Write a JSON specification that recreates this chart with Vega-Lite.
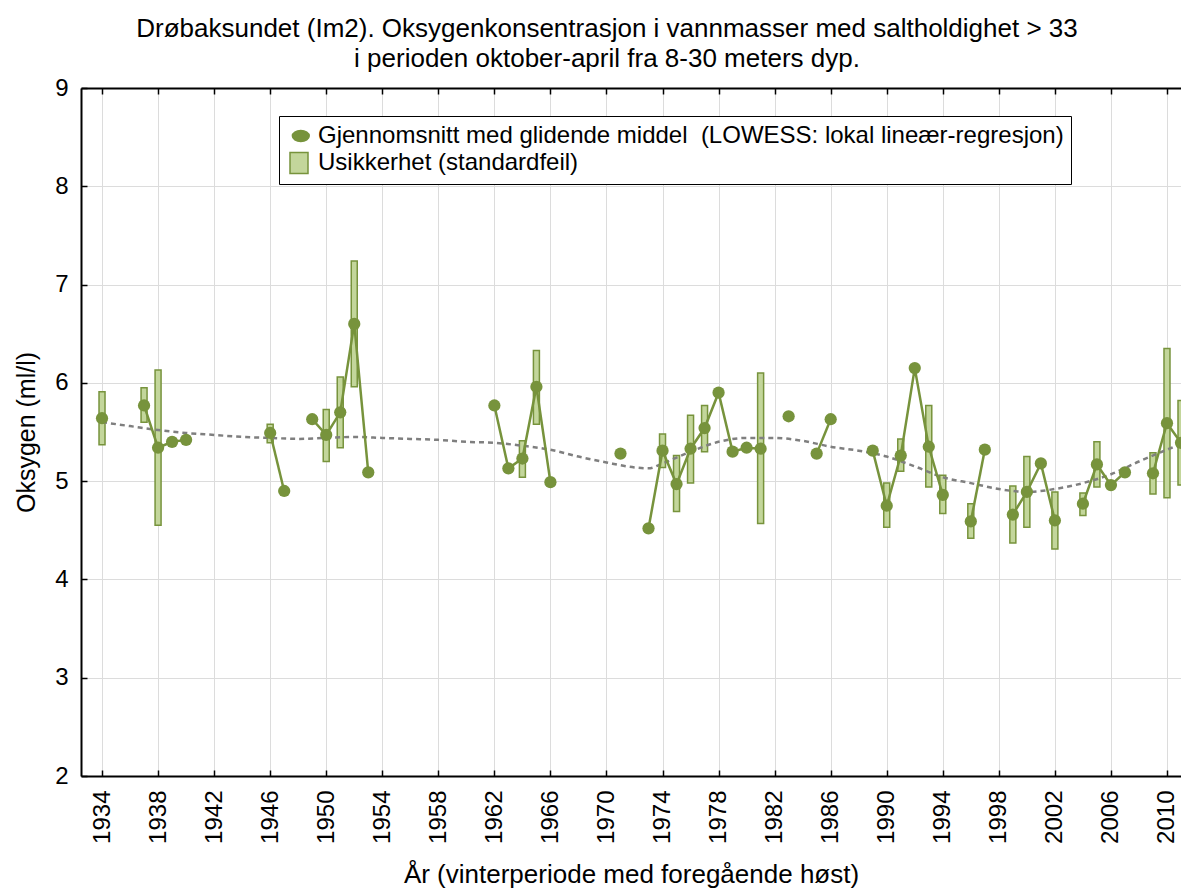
{
  "$schema": "https://vega.github.io/schema/vega-lite/v6.json",
  "width": 1100,
  "height": 688,
  "autosize": {"type": "none"},
  "padding": {"left": 81, "top": 88, "right": 0, "bottom": 115},
  "background": "white",
  "title": {
    "text": ["Drøbaksundet (Im2). Oksygenkonsentrasjon i vannmasser med saltholdighet > 33", "i perioden oktober-april fra 8-30 meters dyp."],
    "font": "Liberation Sans",
    "fontSize": 26,
    "fontWeight": "normal",
    "color": "black",
    "anchor": "middle",
    "dx": -24,
    "lineHeight": 30,
    "offset": 4
  },
  "config": {
    "view": {"stroke": null},
    "axis": {
      "labelFont": "Liberation Sans",
      "titleFont": "Liberation Sans",
      "labelColor": "black",
      "titleColor": "black",
      "titleFontWeight": "normal",
      "domainColor": "black",
      "domainWidth": 2,
      "tickColor": "black",
      "tickWidth": 1.5,
      "gridColor": "#dcdcdc",
      "gridWidth": 1
    },
    "legend": {
      "labelFont": "Liberation Sans",
      "labelFontSize": 24,
      "labelColor": "black",
      "labelLimit": 1000
    }
  },
  "datasets": {
    "main": [
      {"year": 1934, "value": 5.64, "lo": 5.37, "hi": 5.91, "seg": 1},
      {"year": 1937, "value": 5.77, "lo": 5.60, "hi": 5.95, "seg": 2},
      {"year": 1938, "value": 5.34, "lo": 4.55, "hi": 6.13, "seg": 2},
      {"year": 1939, "value": 5.40, "lo": null, "hi": null, "seg": 2},
      {"year": 1940, "value": 5.42, "lo": null, "hi": null, "seg": 2},
      {"year": 1946, "value": 5.49, "lo": 5.39, "hi": 5.58, "seg": 3},
      {"year": 1947, "value": 4.90, "lo": null, "hi": null, "seg": 3},
      {"year": 1949, "value": 5.63, "lo": null, "hi": null, "seg": 4},
      {"year": 1950, "value": 5.47, "lo": 5.20, "hi": 5.73, "seg": 4},
      {"year": 1951, "value": 5.70, "lo": 5.34, "hi": 6.06, "seg": 4},
      {"year": 1952, "value": 6.60, "lo": 5.96, "hi": 7.24, "seg": 4},
      {"year": 1953, "value": 5.09, "lo": null, "hi": null, "seg": 4},
      {"year": 1962, "value": 5.77, "lo": null, "hi": null, "seg": 5},
      {"year": 1963, "value": 5.13, "lo": null, "hi": null, "seg": 5},
      {"year": 1964, "value": 5.23, "lo": 5.04, "hi": 5.41, "seg": 5},
      {"year": 1965, "value": 5.96, "lo": 5.58, "hi": 6.33, "seg": 5},
      {"year": 1966, "value": 4.99, "lo": null, "hi": null, "seg": 5},
      {"year": 1971, "value": 5.28, "lo": null, "hi": null, "seg": 6},
      {"year": 1973, "value": 4.52, "lo": null, "hi": null, "seg": 7},
      {"year": 1974, "value": 5.31, "lo": 5.14, "hi": 5.48, "seg": 7},
      {"year": 1975, "value": 4.97, "lo": 4.69, "hi": 5.26, "seg": 7},
      {"year": 1976, "value": 5.33, "lo": 4.98, "hi": 5.67, "seg": 7},
      {"year": 1977, "value": 5.54, "lo": 5.30, "hi": 5.77, "seg": 7},
      {"year": 1978, "value": 5.90, "lo": null, "hi": null, "seg": 7},
      {"year": 1979, "value": 5.30, "lo": null, "hi": null, "seg": 7},
      {"year": 1980, "value": 5.34, "lo": null, "hi": null, "seg": 7},
      {"year": 1981, "value": 5.33, "lo": 4.57, "hi": 6.10, "seg": 7},
      {"year": 1983, "value": 5.66, "lo": null, "hi": null, "seg": 8},
      {"year": 1985, "value": 5.28, "lo": null, "hi": null, "seg": 9},
      {"year": 1986, "value": 5.63, "lo": null, "hi": null, "seg": 9},
      {"year": 1989, "value": 5.31, "lo": null, "hi": null, "seg": 10},
      {"year": 1990, "value": 4.75, "lo": 4.53, "hi": 4.98, "seg": 10},
      {"year": 1991, "value": 5.26, "lo": 5.10, "hi": 5.43, "seg": 10},
      {"year": 1992, "value": 6.15, "lo": null, "hi": null, "seg": 10},
      {"year": 1993, "value": 5.35, "lo": 4.94, "hi": 5.77, "seg": 10},
      {"year": 1994, "value": 4.86, "lo": 4.67, "hi": 5.06, "seg": 10},
      {"year": 1996, "value": 4.59, "lo": 4.42, "hi": 4.77, "seg": 11},
      {"year": 1997, "value": 5.32, "lo": null, "hi": null, "seg": 11},
      {"year": 1999, "value": 4.66, "lo": 4.37, "hi": 4.95, "seg": 12},
      {"year": 2000, "value": 4.89, "lo": 4.53, "hi": 5.25, "seg": 12},
      {"year": 2001, "value": 5.18, "lo": null, "hi": null, "seg": 12},
      {"year": 2002, "value": 4.60, "lo": 4.31, "hi": 4.89, "seg": 12},
      {"year": 2004, "value": 4.77, "lo": 4.65, "hi": 4.88, "seg": 13},
      {"year": 2005, "value": 5.17, "lo": 4.94, "hi": 5.40, "seg": 13},
      {"year": 2006, "value": 4.96, "lo": null, "hi": null, "seg": 13},
      {"year": 2007, "value": 5.09, "lo": null, "hi": null, "seg": 13},
      {"year": 2009, "value": 5.08, "lo": 4.87, "hi": 5.29, "seg": 14},
      {"year": 2010, "value": 5.59, "lo": 4.83, "hi": 6.35, "seg": 14},
      {"year": 2011, "value": 5.39, "lo": 4.96, "hi": 5.82, "seg": 14}
    ],
    "smooth": [
      {"year": 1934, "value": 5.60},
      {"year": 1936, "value": 5.56},
      {"year": 1938, "value": 5.52},
      {"year": 1940, "value": 5.49},
      {"year": 1942, "value": 5.47},
      {"year": 1944, "value": 5.45},
      {"year": 1946, "value": 5.44},
      {"year": 1948, "value": 5.43},
      {"year": 1950, "value": 5.44},
      {"year": 1952, "value": 5.45},
      {"year": 1954, "value": 5.44},
      {"year": 1956, "value": 5.43},
      {"year": 1958, "value": 5.42},
      {"year": 1960, "value": 5.40},
      {"year": 1962, "value": 5.39},
      {"year": 1964, "value": 5.36},
      {"year": 1966, "value": 5.32},
      {"year": 1968, "value": 5.25},
      {"year": 1970, "value": 5.19},
      {"year": 1972, "value": 5.14},
      {"year": 1973, "value": 5.13},
      {"year": 1974, "value": 5.18},
      {"year": 1976, "value": 5.30},
      {"year": 1978, "value": 5.40},
      {"year": 1980, "value": 5.44},
      {"year": 1982, "value": 5.44},
      {"year": 1984, "value": 5.41},
      {"year": 1986, "value": 5.35},
      {"year": 1988, "value": 5.31},
      {"year": 1990, "value": 5.25},
      {"year": 1992, "value": 5.15},
      {"year": 1994, "value": 5.04},
      {"year": 1996, "value": 4.98},
      {"year": 1998, "value": 4.92},
      {"year": 2000, "value": 4.89},
      {"year": 2002, "value": 4.92},
      {"year": 2004, "value": 4.98},
      {"year": 2006, "value": 5.07},
      {"year": 2008, "value": 5.20},
      {"year": 2010, "value": 5.32},
      {"year": 2011, "value": 5.38}
    ]
  },
  "resolve": {"axis": {"x": "independent"}},
  "layer": [
    {
      "data": {"name": "main"},
      "mark": {"type": "bar", "size": 6, "stroke": "#77933c", "strokeWidth": 1.5, "clip": true},
      "encoding": {
        "x": {
          "field": "year", "type": "quantitative",
          "scale": {"domain": [1932.5, 2011], "nice": false, "zero": false, "padding": 0},
          "axis": {
            "orient": "bottom",
            "values": [1934, 1938, 1942, 1946, 1950, 1954, 1958, 1962, 1966, 1970, 1974, 1978, 1982, 1986, 1990, 1994, 1998, 2002, 2006, 2010],
            "format": "d",
            "labelAngle": -90,
            "labelFontSize": 24,
            "labelPadding": 20,
            "tickSize": -6,
            "grid": true,
            "title": "År (vinterperiode med foregående høst)",
            "titleFontSize": 26,
            "titlePadding": 18
          }
        },
        "y": {
          "field": "lo", "type": "quantitative",
          "scale": {"domain": [2, 9], "nice": false, "zero": false, "padding": 0},
          "axis": {
            "values": [2, 3, 4, 5, 6, 7, 8, 9],
            "format": "d",
            "labelFontSize": 24,
            "labelPadding": 19,
            "tickSize": -6,
            "grid": true,
            "title": "Oksygen (ml/l)",
            "titleFontSize": 25,
            "titlePadding": 15
          }
        },
        "y2": {"field": "hi"},
        "color": {
          "datum": "Usikkerhet (standardfeil)",
          "type": "nominal",
          "scale": {
            "domain": ["\u00a0Gjennomsnitt med glidende middel \u00a0(LOWESS: lokal lineær-regresjon)", "Usikkerhet (standardfeil)"],
            "range": ["#77933c", "#c3d69b"]
          },
          "legend": {
            "title": null,
            "orient": "none",
            "legendX": 198,
            "legendY": 28,
            "strokeColor": "black",
            "fillColor": "white",
            "padding": 7,
            "symbolSize": 576,
            "symbolType": {"expr": "datum.value == 'Usikkerhet (standardfeil)' ? 'M-0.75,-0.875H0.75V0.875H-0.75Z' : 'M-0.55,0A0.7,0.45 0 1,0 0.85,0A0.7,0.45 0 1,0 -0.55,0Z'"},
            "symbolStrokeColor": "#77933c",
            "symbolStrokeWidth": 1.5,
            "rowPadding": 1,
            "labelOffset": 6
          }
        }
      }
    },
    {
      "data": {"name": "smooth"},
      "mark": {"type": "line", "color": "#7f7f7f", "strokeWidth": 2.5, "strokeDash": [5, 4], "interpolate": "monotone", "clip": true},
      "encoding": {
        "x": {
          "field": "year", "type": "quantitative",
          "axis": {
            "orient": "top",
            "values": [1934, 1938, 1942, 1946, 1950, 1954, 1958, 1962, 1966, 1970, 1974, 1978, 1982, 1986, 1990, 1994, 1998, 2002, 2006, 2010],
            "labels": false,
            "tickSize": -6,
            "grid": false,
            "title": null
          }
        },
        "y": {"field": "value", "type": "quantitative", "title": "Oksygen (ml/l)"}
      }
    },
    {
      "data": {"name": "main"},
      "mark": {"type": "line", "color": "#77933c", "strokeWidth": 2.5, "clip": true},
      "encoding": {
        "x": {"field": "year", "type": "quantitative", "axis": null},
        "y": {"field": "value", "type": "quantitative", "title": "Oksygen (ml/l)"},
        "detail": {"field": "seg", "type": "nominal"}
      }
    },
    {
      "data": {"name": "main"},
      "mark": {"type": "circle", "size": 150, "opacity": 1, "clip": true},
      "encoding": {
        "x": {"field": "year", "type": "quantitative", "axis": null},
        "y": {"field": "value", "type": "quantitative", "title": "Oksygen (ml/l)"},
        "color": {"datum": "\u00a0Gjennomsnitt med glidende middel \u00a0(LOWESS: lokal lineær-regresjon)", "type": "nominal"}
      }
    }
  ]
}
